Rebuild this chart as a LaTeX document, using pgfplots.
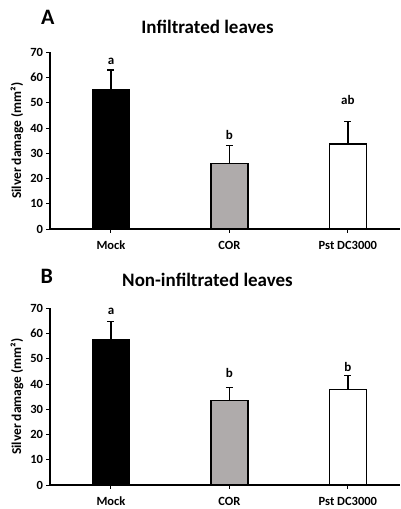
\documentclass[border=0pt]{standalone}
\usepackage{fontspec}
\setmainfont{Carlito}
\usepackage{pgfplots}
\pgfplotsset{compat=1.18}
\definecolor{barGray}{RGB}{175,171,171}
\pgfplotsset{panel/.style={
  scale only axis, width=350pt, height=176.7pt,
  xmin=-0.515, xmax=2.44, ymin=0, ymax=70,
  axis lines=left, axis line style={line width=1.1pt, -},
  xtick={0,1,2}, xticklabels={Mock,COR,Pst DC3000},
  ytick={0,10,...,70},
  tick align=outside, major tick length=3.5pt, tick style={line width=1pt, black},
  /pgf/number format/assume math mode=true,
  ticklabel style={font=\bfseries\fontsize{12.5}{14}\selectfont},
  xticklabel style={yshift=-5pt, font=\bfseries\fontsize{12.5}{14}\selectfont},
  ylabel={Silver damage (mm²)},
  ylabel style={at={([xshift=-33pt]axis description cs:0,0.5)}, anchor=center, font=\bfseries\fontsize{13.5}{15}\selectfont},
  ybar, bar width=37pt, bar shift=0pt,
  clip=false,
  every axis plot/.append style={line width=1.3pt, draw=black},
  error bars/y dir=plus, error bars/y explicit,
  error bars/error bar style={line width=1.3pt, black},
  error bars/error mark options={rotate=90, mark size=3.5pt, line width=1.3pt, black},
}}
\begin{document}
\begin{tikzpicture}
\path[use as bounding box] (0,0) rectangle (401pt,-509pt);
\node[font=\bfseries\fontsize{22}{24}\selectfont, anchor=base] at (47.8pt,-24pt) {A};
\node[font=\bfseries\fontsize{19}{22}\selectfont, anchor=base] at (207.5pt,-33pt) {Infiltrated leaves};
\begin{axis}[panel, at={(50pt,-229pt)}, anchor=south west]
\addplot[fill=black] coordinates {(0,55.3) +- (0,7.7)};
\addplot[fill=barGray] coordinates {(1,26.0) +- (0,7.2)};
\addplot[fill=white] coordinates {(2,33.7) +- (0,8.8)};
\node[font=\bfseries\fontsize{13}{14}\selectfont] at (axis cs:0,66.3) {a};
\node[font=\bfseries\fontsize{13}{14}\selectfont] at (axis cs:1,37.2) {b};
\node[font=\bfseries\fontsize{13}{14}\selectfont] at (axis cs:2,51.1) {ab};
\end{axis}
\node[font=\bfseries\fontsize{22}{24}\selectfont, anchor=base] at (46.8pt,-283.3pt) {B};
\node[font=\bfseries\fontsize{19}{22}\selectfont, anchor=base] at (207.5pt,-286.5pt) {Non-infiltrated leaves};
\begin{axis}[panel, at={(50pt,-485pt)}, anchor=south west]
\addplot[fill=black] coordinates {(0,57.7) +- (0,7.0)};
\addplot[fill=barGray] coordinates {(1,33.5) +- (0,5.1)};
\addplot[fill=white] coordinates {(2,37.8) +- (0,5.5)};
\node[font=\bfseries\fontsize{13}{14}\selectfont] at (axis cs:0,68.9) {a};
\node[font=\bfseries\fontsize{13}{14}\selectfont] at (axis cs:1,44.5) {b};
\node[font=\bfseries\fontsize{13}{14}\selectfont] at (axis cs:2,46.6) {b};
\end{axis}
\end{tikzpicture}
\end{document}
